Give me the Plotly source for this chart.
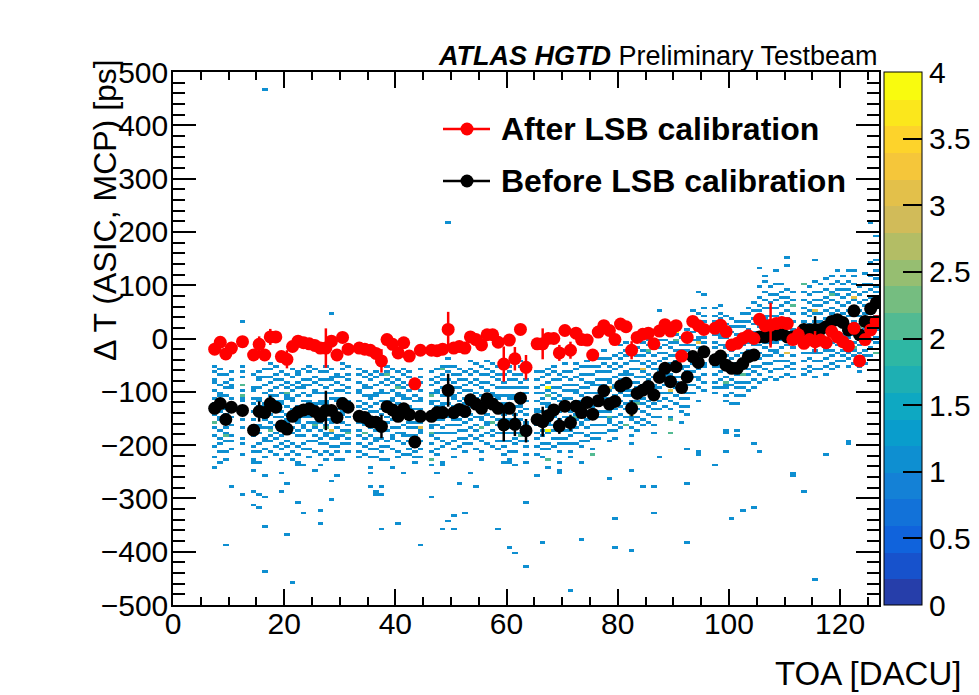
import plotly.graph_objects as go

# ---------------- data ----------------
# Profile points (bin centres of TOA), After LSB calibration (red)
toa_after = [7.5, 8.5, 9.5, 10.5, 12.5, 14.5, 15.5, 16.5, 17.5, 18.5, 19.5, 20.5, 21.5, 22.5, 23.5,
             24.5, 25.5, 26.5, 27.5, 28.5, 29.5, 30.5, 31.5, 33.5, 34.5, 35.5, 36.5, 37.5, 38.5, 39.5,
             40.5, 41.5, 42.5, 43.5, 44.5, 46.5, 47.5, 48.5, 49.5, 50.5, 51.5, 52.5, 53.5, 54.5, 55.5,
             56.5, 57.5, 58.5, 59.5, 60.5, 61.5, 62.5, 63.5, 65.5, 66.5, 67.5, 68.5, 69.5, 70.5, 71.5,
             72.5, 73.5, 74.5, 75.5, 76.5, 77.5, 78.5, 79.5, 80.5, 81.5, 82.5, 83.5, 84.5, 85.5, 86.5,
             87.5, 88.5, 89.5, 90.5, 91.5, 92.5, 93.5, 94.5, 95.5, 97.5, 98.5, 99.5, 100.5, 101.5, 102.5,
             103.5, 104.5, 105.5, 106.5, 107.5, 108.5, 109.5, 110.5, 111.5, 112.5, 113.5, 114.5, 115.5,
             116.5, 117.5, 118.5, 119.5, 120.5, 121.5, 122.5, 123.5, 124.5, 125.5, 126.5]
dt_after = [-20, -7, -29, -18, -6, -31, -11, -31, 3, 3, -34, -39, -15, -5, -8,
            -10, -13, -18, -18, -5, -31, 2, -20, -18, -20, -22, -28, -42, -2, -11,
            -27, -8, -33, -85, -22, -22, -23, -20, 17, -18, -15, -18, 3, -2, -12,
            7, 7, -7, -48, -3, -38, 17, -54, -10, -10, 0, 0, -27, 15, -22,
            10, -2, -3, -31, 12, 24, 15, -2, 27, 22, -22, 2, 8, 10, -10,
            14, 26, 14, 24, -33, 2, 32, 24, 17, 19, 25, 13, -12, -9, 0,
            5, 0, 36, 24, 25, 28, 30, 28, -2, 7, -9, -2, -6,
            -3, -8, 13, 3, -6, -14, 19, -42, -2, 16, 32]
err_after = [6, 6, 6, 6, 6, 8, 15, 8, 15, 6, 6, 17, 6, 6, 6,
             6, 6, 6, 37, 6, 10, 6, 8, 6, 6, 6, 6, 22, 6, 8,
             6, 6, 6, 6, 6, 6, 6, 6, 33, 10, 6, 6, 6, 6, 8,
             6, 6, 6, 33, 8, 22, 6, 23, 6, 29, 6, 6, 15, 6, 16,
             6, 6, 6, 6, 6, 10, 6, 8, 6, 6, 17, 6, 6, 6, 6,
             6, 6, 6, 6, 6, 6, 6, 6, 6, 6, 6, 6, 8, 6, 6,
             6, 6, 6, 6, 42, 6, 6, 8, 6, 15, 6, 6, 20,
             6, 6, 6, 6, 6, 6, 6, 10, 6, 6, 6]

# Before LSB calibration (black)
toa_before = [7.5, 8.5, 9.5, 10.5, 12.5, 14.5, 15.5, 16.5, 17.5, 18.5, 19.5, 20.5, 21.5, 22.5, 23.5,
              24.5, 25.5, 26.5, 27.5, 28.5, 29.5, 30.5, 31.5, 33.5, 34.5, 35.5, 36.5, 37.5, 38.5, 39.5,
              40.5, 41.5, 42.5, 43.5, 44.5, 46.5, 47.5, 48.5, 49.5, 50.5, 51.5, 52.5, 53.5, 54.5, 55.5,
              56.5, 57.5, 58.5, 59.5, 60.5, 61.5, 62.5, 63.5, 65.5, 66.5, 67.5, 68.5, 69.5, 70.5, 71.5,
              72.5, 73.5, 74.5, 75.5, 76.5, 77.5, 78.5, 79.5, 80.5, 81.5, 82.5, 83.5, 84.5, 85.5, 86.5,
              87.5, 88.5, 89.5, 90.5, 91.5, 92.5, 93.5, 94.5, 95.5, 97.5, 98.5, 99.5, 100.5, 101.5, 102.5,
              103.5, 104.5, 105.5, 106.5, 107.5, 108.5, 109.5, 110.5, 111.5, 113.5, 114.5, 115.5,
              116.5, 117.5, 118.5, 119.5, 120.5, 121.5, 122.5, 123.5, 124.5, 125.5, 126.5]
dt_before = [-131, -122, -152, -129, -135, -172, -137, -139, -122, -129, -164, -170, -146, -138, -134,
             -132, -137, -146, -135, -135, -148, -122, -129, -146, -148, -156, -157, -165, -128, -134,
             -146, -132, -143, -194, -146, -146, -139, -139, -97, -139, -133, -137, -115, -123, -131,
             -113, -123, -131, -162, -131, -161, -112, -173, -152, -156, -145, -134, -164, -127, -158,
             -127, -139, -120, -142, -117, -98, -123, -118, -89, -84, -131, -103, -97, -90, -106,
             -73, -56, -81, -53, -92, -72, -34, -45, -25, -40, -33, -50, -56, -56, -47,
             -34, -31, 3, 3, 7, 7, 10, 3, 3, 17, 16, 17,
             17, 22, 32, 35, 30, 16, 52, 7, 32, 56, 67]
err_before = [6, 6, 6, 6, 6, 6, 19, 8, 15, 6, 6, 6, 6, 6, 6,
              6, 6, 6, 37, 6, 8, 6, 6, 6, 6, 6, 6, 22, 6, 6,
              6, 6, 6, 6, 6, 6, 6, 6, 31, 8, 6, 6, 6, 6, 6,
              6, 6, 6, 31, 10, 22, 6, 22, 6, 28, 6, 6, 15, 6, 15,
              6, 6, 6, 6, 6, 6, 8, 8, 6, 6, 15, 6, 6, 6, 6,
              6, 6, 6, 6, 6, 6, 6, 6, 6, 6, 6, 6, 10, 10, 6,
              6, 8, 6, 6, 20, 6, 6, 6, 6, 10, 6, 25,
              6, 6, 6, 6, 6, 6, 6, 6, 6, 6, 6]

# 2D histogram: TOA bin index -> Delta T of the filled 5 ps cells holding 1 entry
cells_one = {
    7: "-55 -65 -80 -85 -100 -115 -125 -130 -145 -160 -170 -185 -205 -225 -245",
    8: "-60 -70 -90 -105 -110 -120 -140 -150 -155 -175 -190 -200 -215 -235",
    9: "-70 -85 -95 -110 -130 -135 -145 -160 -170 -180 -195 -215 -230 -390",
    10: "-65 -80 -90 -95 -115 -125 -140 -150 -165 -185 -195 -210 -280",
    12: "30 -55 -65 -75 -100 -115 -120 -135 -145 -155 -170 -190 -200 -220 -295",
    14: "-70 -95 -100 -115 -125 -140 -155 -165 -175 -185 -205 -215 -230 -235 -250 -290 -315",
    15: "-65 -75 -80 -95 -115 -120 -130 -145 -165 -170 -180 -200 -215 -235 -295 -320",
    16: "465 -60 -75 -90 -105 -125 -130 -150 -155 -170 -190 -195 -210 -225 -260 -300 -355 -440",
    17: "-50 -60 -75 -85 -100 -110 -130 -135 -145 -160 -170 -185 -195 -215",
    18: "-55 -70 -80 -95 -110 -120 -125 -135 -150 -165 -180 -190 -205 -220",
    19: "-65 -80 -90 -105 -120 -125 -140 -150 -160 -175 -185 -200 -210 -230 -255 -290",
    20: "-70 -85 -95 -110 -115 -130 -145 -155 -160 -180 -195 -205 -220 -275 -370",
    21: "-60 -75 -90 -100 -115 -120 -135 -145 -155 -170 -180 -200 -215 -230 -460",
    22: "-65 -70 -85 -95 -110 -130 -135 -155 -160 -175 -185 -205 -220 -235 -240 -310",
    23: "-60 -80 -90 -95 -105 -120 -140 -150 -165 -170 -185 -200 -210 -240 -330",
    24: "-55 -65 -80 -90 -110 -120 -125 -145 -150 -160 -175 -195 -210 -225",
    25: "-60 -75 -85 -100 -105 -125 -130 -140 -160 -170 -185 -195 -215 -250",
    26: "-65 -80 -90 -105 -120 -125 -140 -150 -160 -175 -190 -200 -220 -240 -325 -350",
    27: "-55 -65 -80 -95 -105 -120 -125 -140 -155 -165 -180 -185 -200 -215 -230",
    28: "45 -60 -75 -80 -90 -105 -115 -130 -145 -155 -160 -180 -190 -205 -220 -270 -305",
    29: "-70 -75 -85 -100 -115 -120 -135 -145 -155 -170 -185 -190 -205 -215 -230 -260",
    30: "-50 -60 -75 -90 -100 -115 -130 -140 -145 -160 -175 -185 -200 -230",
    31: "-55 -70 -80 -95 -105 -120 -125 -140 -150 -165 -175 -190 -200 -215",
    33: "-60 -70 -85 -100 -105 -120 -130 -145 -155 -160 -175 -185 -200 -215 -225",
    34: "-65 -75 -90 -95 -110 -125 -135 -145 -160 -165 -180 -190 -205 -220",
    35: "-70 -80 -95 -110 -115 -130 -140 -155 -165 -170 -185 -200 -210 -225 -245 -255 -280",
    36: "-65 -75 -90 -105 -110 -125 -140 -150 -165 -175 -190 -195 -210 -225 -290 -295",
    37: "-70 -85 -100 -105 -120 -135 -145 -160 -170 -175 -190 -205 -215 -230 -280 -295 -360",
    38: "-55 -65 -80 -90 -105 -120 -125 -135 -150 -160 -175 -195 -205 -230",
    39: "-60 -75 -85 -100 -115 -120 -130 -145 -155 -170 -185 -190 -210 -245",
    40: "-65 -80 -90 -105 -110 -125 -140 -150 -155 -170 -180 -195 -215 -225 -350",
    41: "-60 -70 -85 -95 -110 -115 -135 -140 -150 -165 -180 -185 -200 -220 -255",
    42: "-65 -75 -90 -100 -115 -130 -135 -150 -160 -170 -185 -195 -210 -220",
    43: "-80 -95 -110 -120 -135 -145 -160 -170 -185 -195 -205 -215 -225 -235",
    44: "-60 -75 -85 -100 -115 -120 -135 -145 -160 -175 -180 -195 -210 -225 -390",
    46: "-65 -80 -90 -105 -120 -125 -140 -150 -165 -170 -185 -200 -215 -240 -300",
    47: "-60 -75 -85 -100 -105 -120 -130 -145 -155 -165 -180 -190 -210 -220 -255",
    48: "-55 -70 -80 -95 -110 -125 -130 -145 -155 -170 -180 -195 -205 -235 -240 -360",
    49: "215 -40 -55 -65 -80 -95 -100 -110 -125 -140 -150 -165 -180 -200 -345",
    50: "-55 -70 -85 -95 -110 -115 -130 -140 -155 -165 -180 -195 -210 -225 -335 -360",
    51: "-60 -70 -80 -95 -105 -120 -135 -140 -155 -165 -175 -190 -205 -275",
    52: "-65 -80 -90 -100 -115 -125 -140 -150 -160 -175 -190 -200 -215 -330",
    53: "-45 -60 -70 -85 -100 -110 -115 -130 -145 -155 -170 -185 -200 -255",
    54: "-50 -65 -80 -90 -105 -115 -130 -135 -150 -165 -175 -190 -210 -280",
    55: "-55 -70 -85 -95 -110 -120 -135 -150 -155 -170 -185 -195 -215 -230",
    56: "-45 -60 -70 -85 -100 -110 -120 -130 -145 -160 -165 -180 -200",
    57: "-50 -65 -75 -90 -105 -110 -125 -135 -150 -160 -175 -185 -205",
    58: "-55 -70 -80 -95 -110 -115 -130 -140 -155 -165 -180 -195 -210 -360",
    59: "-70 -85 -95 -110 -125 -130 -145 -155 -170 -180 -195 -205 -220 -235",
    60: "-55 -65 -80 -95 -110 -115 -135 -140 -155 -170 -180 -195 -215 -230 -235 -395",
    61: "-70 -80 -95 -110 -115 -130 -145 -155 -165 -180 -190 -200 -215 -240 -405",
    62: "-45 -55 -70 -85 -95 -110 -125 -130 -140 -155 -170 -180 -195",
    63: "-80 -95 -105 -120 -135 -145 -160 -165 -180 -195 -205 -220 -235 -310 -430",
    65: "-65 -80 -95 -105 -120 -135 -140 -155 -165 -180 -190 -205 -220 -260",
    66: "-65 -75 -90 -105 -115 -125 -140 -150 -165 -175 -185 -200 -210 -225 -385",
    67: "-60 -70 -85 -100 -110 -125 -130 -145 -160 -165 -180 -200 -210 -245",
    68: "-55 -65 -80 -95 -105 -115 -130 -140 -150 -165 -175 -190 -205",
    69: "-70 -80 -95 -110 -120 -135 -140 -155 -170 -175 -190 -200 -215 -235 -250 -255",
    70: "-50 -65 -75 -90 -100 -115 -125 -135 -150 -160 -175 -190 -200",
    71: "-65 -80 -90 -100 -115 -130 -140 -150 -165 -175 -185 -200 -215 -225 -475",
    72: "-50 -60 -75 -90 -100 -105 -120 -135 -145 -155 -170 -180 -200",
    73: "-55 -70 -80 -95 -110 -120 -130 -145 -160 -165 -180 -195 -205 -235 -380",
    74: "-45 -55 -70 -85 -95 -105 -120 -130 -140 -155 -170 -185 -195",
    75: "-55 -70 -85 -90 -105 -120 -130 -145 -150 -165 -180 -190 -210",
    76: "-40 -55 -65 -80 -90 -105 -115 -125 -140 -150 -165 -180 -190",
    77: "-25 -40 -50 -65 -80 -90 -100 -115 -125 -140 -150 -165 -180",
    78: "-40 -55 -65 -80 -85 -100 -115 -125 -140 -155 -160 -175 -195 -265",
    79: "-35 -50 -60 -75 -90 -95 -110 -125 -135 -150 -165 -175 -190 -340 -395",
    80: "-15 -30 -40 -55 -70 -80 -95 -105 -120 -130 -145 -160 -170",
    81: "-10 -25 -35 -50 -65 -70 -85 -100 -110 -125 -135 -150 -165",
    82: "-45 -60 -70 -85 -100 -110 -120 -135 -150 -155 -170 -185 -200 -250 -400",
    83: "-20 -35 -45 -60 -75 -85 -95 -110 -120 -135 -150 -160 -175",
    84: "-10 -25 -35 -50 -65 -75 -90 -100 -115 -125 -140 -155 -165 -280",
    85: "-5 -15 -30 -45 -55 -70 -80 -95 -105 -120 -130 -145 -160",
    86: "-20 -35 -50 -60 -75 -90 -95 -110 -125 -135 -150 -165 -180 -280 -330",
    87: "50 10 -5 -20 -30 -45 -60 -65 -80 -95 -105 -120 -135 -150 -225",
    88: "25 10 -5 -15 -30 -40 -55 -70 -75 -90 -105 -115 -130",
    89: "5 -10 -20 -35 -50 -60 -70 -85 -100 -105 -120 -135 -150",
    90: "30 15 5 -10 -25 -35 -45 -60 -75 -85 -95 -110 -125",
    91: "0 -15 -25 -40 -55 -60 -75 -90 -100 -115 -130 -140 -160",
    92: "15 0 -15 -25 -40 -55 -65 -75 -90 -105 -115 -130 -145 -210 -275 -385",
    93: "50 35 25 10 -5 -15 -30 -35 -50 -65 -75 -90 -105",
    94: "85 45 30 15 0 -5 -20 -35 -45 -60 -75 -80 -95 -120 -215 -220",
    95: "80 55 40 30 15 0 -10 -20 -35 -50 -55 -70 -85 -100",
    97: "55 40 30 15 5 -10 -20 -35 -45 -55 -70 -85 -95 -105 -240",
    98: "60 45 35 20 5 0 -15 -30 -40 -55 -65 -80 -95",
    99: "40 25 15 0 -15 -20 -35 -50 -60 -75 -90 -95 -110 -120 -175 -180 -215",
    100: "35 20 10 -5 -20 -25 -40 -55 -65 -80 -90 -105 -125 -340",
    101: "30 20 5 -10 -20 -35 -50 -55 -70 -85 -95 -110 -125 -175 -185",
    102: "45 30 20 5 -10 -15 -30 -45 -55 -70 -85 -95 -110 -325",
    103: "55 45 30 15 5 -10 -25 -30 -45 -60 -70 -85 -100",
    104: "65 50 35 25 10 -5 -15 -25 -40 -55 -65 -80 -95 -200 -320",
    105: "130 95 75 60 50 35 20 5 0 -15 -30 -40 -55 -70 -85 -215",
    106: "115 105 85 70 55 40 35 20 5 -10 -20 -35 -50 -60 -80",
    107: "95 80 65 55 40 25 15 0 -10 -25 -35 -50 -65 -75",
    108: "125 100 80 70 55 40 30 15 5 -10 -25 -30 -45 -60 -80",
    109: "100 85 75 60 45 30 20 5 -5 -20 -35 -45 -60 -75",
    110: "150 135 90 75 65 50 35 20 10 -5 -15 -30 -45 -55 -70",
    111: "85 70 60 45 30 15 5 -10 -20 -35 -50 -60 -75 -255 -260",
    113: "100 85 70 55 45 30 15 10 -5 -20 -30 -45 -60 -70 -290",
    114: "95 80 65 50 40 25 10 0 -15 -30 -40 -55 -65",
    115: "145 105 85 70 60 45 30 15 5 -10 -25 -30 -45 -60 -75 -455",
    116: "100 85 70 60 45 30 20 5 -10 -15 -30 -45 -60",
    117: "110 90 75 65 50 35 20 10 -5 -20 -25 -40 -55 -70 -220",
    118: "115 100 85 70 55 45 30 15 5 -10 -25 -35 -50 -60",
    119: "125 105 90 80 65 50 35 25 10 -5 -15 -30 -45 -55",
    120: "115 100 90 75 60 45 30 20 5 -10 -25 -35 -45",
    121: "125 105 90 80 65 50 40 25 10 0 -15 -30 -40 -55 -195 -200",
    122: "125 115 100 85 70 55 45 30 15 5 -10 -25 -35 -50",
    123: "95 80 65 50 40 25 10 -5 -15 -30 -45 -55 -65",
    124: "120 100 85 70 60 45 30 15 5 -10 -25 -35 -50",
    125: "215 140 115 100 90 75 60 45 35 20 5 -5 -20 -35",
    126: "190 145 125 110 95 85 70 55 40 30 15 0 -10",
}
# cells with 2, 3 and 4 entries: (TOA bin, Delta T)
cells_two = [(7, -160), (9, -185), (12, -90), (12, -110), (17, -175), (20, -105), (25, -165),
             (27, -170), (31, -180), (34, -180), (38, -70), (40, -95), (46, -110), (46, -180),
             (46, -230), (48, -60), (55, -170), (57, -160), (62, -185), (67, -230), (67, -110),
             (72, -150), (75, -220), (78, -150), (81, -165), (83, -125), (85, -25), (89, -155),
             (89, -180), (90, -5), (98, -50), (99, -85), (102, -70), (111, 60), (113, 100),
             (118, 80), (122, -20), (123, 20), (126, -30)]
cells_three = [(28, -175), (44, -170), (78, -95), (82, -145), (84, -60), (89, -100), (94, -10),
               (110, -30), (115, 50), (122, 75)]
cells_four = [(67, -95), (67, -175), (90, 10)]

x_ticks = [0, 20, 40, 60, 80, 100, 120]

# ---------------- build histogram grid ----------------
NX, X0, X1 = 127, 0, 127
NY, Y0, Y1 = 200, -500, 500
DY = (Y1 - Y0) / NY
xc = [X0 + i + 0.5 for i in range(NX)]
yc = [Y0 + (j + 0.5) * DY for j in range(NY)]
z = [[None] * NX for _ in range(NY)]


def put(col, val, count):
    j = int((val - Y0) // DY)
    if 0 <= j < NY and 0 <= col < NX:
        z[j][col] = count


for col, s in cells_one.items():
    for v in s.split():
        put(col, float(v), 1)
for col, v in cells_two:
    put(col, v, 2)
for col, v in cells_three:
    put(col, v, 3)
for col, v in cells_four:
    put(col, v, 4)

# ROOT kBird palette, 20 contour bands
stops = [0.0, 0.125, 0.25, 0.375, 0.5, 0.625, 0.75, 0.875, 1.0]
rr = [0.2082, 0.0592, 0.0780, 0.0232, 0.1802, 0.5301, 0.8186, 0.9956, 0.9764]
gg = [0.1664, 0.3599, 0.5041, 0.6419, 0.7178, 0.7492, 0.7328, 0.7862, 0.9832]
bb = [0.5293, 0.8684, 0.8385, 0.7914, 0.6425, 0.4662, 0.3499, 0.1968, 0.0539]


def bird(t):
    for k in range(len(stops) - 1):
        if t <= stops[k + 1]:
            f = (t - stops[k]) / (stops[k + 1] - stops[k])
            c = [a[k] + f * (a[k + 1] - a[k]) for a in (rr, gg, bb)]
            return "rgb(%d,%d,%d)" % tuple(round(255 * v) for v in c)
    return "rgb(249,251,14)"


NB = 20
eps = 0.002
cscale = []
for i in range(NB):
    col = bird((i + 1) / NB)
    lo = 0.0 if i == 0 else i / NB - eps
    hi = 1.0 if i == NB - 1 else (i + 1) / NB - eps
    cscale.append([lo, col])
    cscale.append([hi, col])

# ---------------- figure ----------------
# the page body adds an 8 px offset, so the figure is 8 px smaller than the window
OFF = 8
W, H = 979 - OFF, 695 - OFF
PL, PR, PT, PB = 173, 879, 72, 605          # plot frame in window pixels
ML, MT = PL - OFF, PT - OFF
PW, PH = PR - PL, PB - PT
MR, MB = W - ML - PW, H - MT - PH


def px(xs):
    return (xs - PL) / PW


def py(ys):
    return (PB - ys) / PH


FONT = "Liberation Sans, Arial, Helvetica, sans-serif"

fig = go.Figure()
fig.add_trace(go.Heatmap(
    x=xc, y=yc, z=z, zmin=0, zmax=4, colorscale=cscale, hoverinfo="skip",
    colorbar=dict(x=px(884), xanchor="left", y=0.5, yanchor="middle", len=1, lenmode="fraction",
                  thickness=38, thicknessmode="pixels", xpad=0, ypad=0,
                  outlinewidth=1, outlinecolor="black",
                  tickmode="linear", tick0=0, dtick=0.5, ticks="inside", ticklen=19,
                  tickwidth=1.5, tickcolor="black",
                  tickfont=dict(family=FONT, size=30, color="black")),
))

fig.add_trace(go.Scatter(
    x=toa_before, y=dt_before, mode="markers", showlegend=False,
    marker=dict(color="black", size=13),
    error_y=dict(type="data", array=err_before, width=0, thickness=2.5, color="black"),
))
fig.add_trace(go.Scatter(
    x=toa_after, y=dt_after, mode="markers", showlegend=False,
    marker=dict(color="red", size=13),
    error_y=dict(type="data", array=err_after, width=0, thickness=2.5, color="red"),
))

axis_common = dict(showline=True, linecolor="black", linewidth=1.5, mirror="ticks",
                   ticks="inside", tickcolor="black", tickwidth=1.5, showgrid=False,
                   zeroline=False, tickfont=dict(family=FONT, size=30, color="black"))
fig.update_xaxes(range=[X0, X1], tickmode="array", tickvals=x_ticks, ticklen=16,
                 ticklabelstandoff=-9,
                 minor=dict(dtick=5, tick0=0, ticklen=8, ticks="inside", tickcolor="black",
                            tickwidth=1.5, showgrid=False),
                 **axis_common)
fig.update_yaxes(range=[Y0, Y1], tickmode="linear", tick0=0, dtick=100, ticklen=23,
                 ticklabelstandoff=-3,
                 minor=dict(dtick=20, tick0=0, ticklen=12, ticks="inside", tickcolor="black",
                            tickwidth=1.5, showgrid=False),
                 **axis_common)

ann = [
    dict(text="<b><i>ATLAS HGTD</i></b> Preliminary Testbeam", x=px(880), y=py(56),
         xanchor="right", yanchor="middle", font=dict(family=FONT, size=27, color="black")),
    dict(text="\u0394 T (ASIC, MCP) [ps]", x=px(105), y=py(57), textangle=-90,
         xanchor="center", yanchor="top", font=dict(family=FONT, size=32, color="black")),
    dict(text="TOA [DACU]", x=px(963), y=py(673), xanchor="right", yanchor="middle",
         font=dict(family=FONT, size=33, color="black")),
    dict(text="<b>After LSB calibration</b>", x=px(499), y=py(129), xanchor="left",
         yanchor="middle", font=dict(family=FONT, size=32, color="black")),
    dict(text="<b>Before LSB calibration</b>", x=px(499), y=py(181), xanchor="left",
         yanchor="middle", font=dict(family=FONT, size=32, color="black")),
]
for a in ann:
    a.update(xref="paper", yref="paper", showarrow=False)

shapes = []
for yy, c in ((129, "red"), (181, "black")):
    shapes.append(dict(type="line", xref="paper", yref="paper", x0=px(443), x1=px(490),
                       y0=py(yy), y1=py(yy), line=dict(color=c, width=2.5)))
    shapes.append(dict(type="circle", xref="paper", yref="paper", x0=px(460.5), x1=px(473.5),
                       y0=py(yy + 6.5), y1=py(yy - 6.5), fillcolor=c, line=dict(color=c, width=0)))

fig.update_layout(width=W, height=H, margin=dict(l=ML, r=MR, t=MT, b=MB, autoexpand=False),
                  paper_bgcolor="white", plot_bgcolor="white", showlegend=False,
                  annotations=ann, shapes=shapes, font=dict(family=FONT, color="black"))

fig.write_html("out.html")
